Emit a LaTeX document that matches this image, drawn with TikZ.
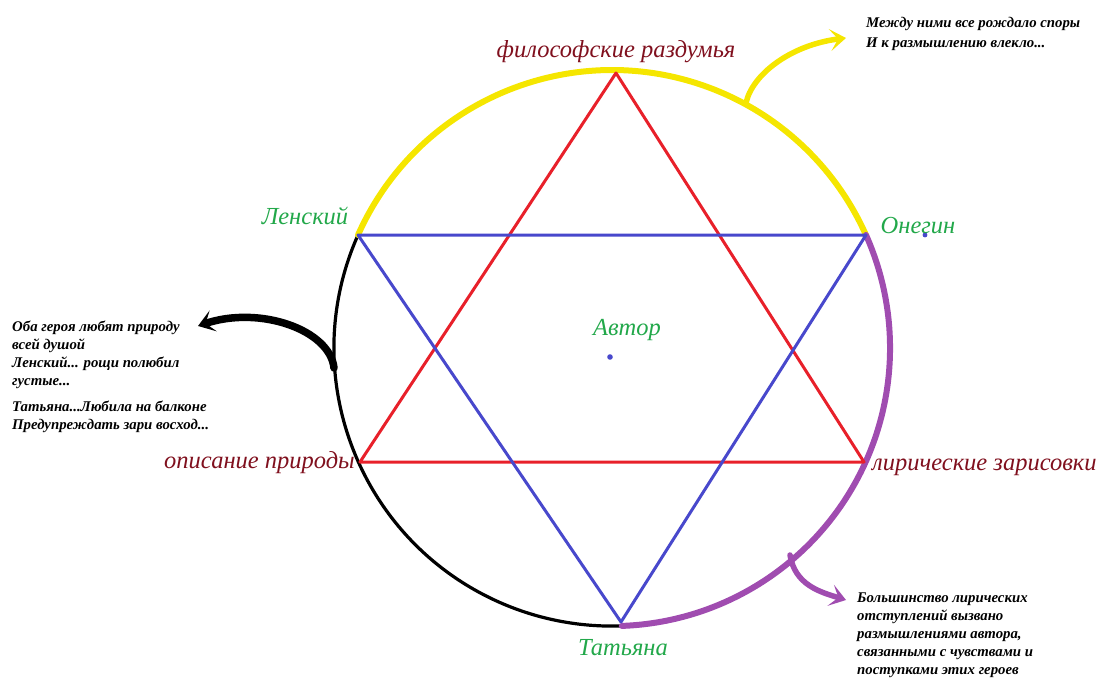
\documentclass[tikz,border=0pt]{standalone}
\usepackage{fontspec}
\setmainfont{Liberation Serif}
\usetikzlibrary{arrows.meta,calc}
\definecolor{starred}{HTML}{E8202A}
\definecolor{starblue}{HTML}{4848CC}
\definecolor{labred}{HTML}{80101E}
\definecolor{labgreen}{HTML}{22A84A}
\definecolor{yel}{HTML}{F5E600}
\definecolor{purp}{HTML}{A04CB0}
\tikzset{
  lab/.style={font=\fontsize{24.5}{26}\selectfont\itshape, inner sep=0pt},
  topic/.style={lab, text=labred},
  hero/.style={lab, text=labgreen},
  note/.style={font=\fontsize{14.8}{18}\selectfont\bfseries\itshape, align=left, inner sep=0pt, anchor=north west},
  starline/.style={line width=3pt, line join=round},
  rim/.style={line width=3.2pt, line cap=round},
  hand/.style={line width=5.5pt, line cap=round, -{Stealth[length=16pt,width=22pt,inset=8pt]}}
}
\begin{document}
\begin{tikzpicture}[x=1pt,y=-1pt]
\useasboundingbox (0,0) rectangle (1099,677);
\coordinate (C) at (612,349);
% star vertices
\coordinate (top) at ($(C)+(4,-276)$);
\coordinate (len) at (358,235);
\coordinate (one) at (866,235);
\coordinate (ll) at (360,462);
\coordinate (lr) at (864,462);
\coordinate (bot) at (621,622);
% circle arcs
\draw[rim, black] (len) arc[start angle=156, end angle=272, x radius=278, y radius=-278];
\draw[rim, yel, line width=6pt] (len) arc[start angle=156, end angle=24, x radius=278, y radius=-278];
\draw[rim, purp, line width=6pt] (one) arc[start angle=24, end angle=-88, x radius=278, y radius=-278];
% star
\draw[starline, starred] (top) -- (ll) -- (lr) -- cycle;
\draw[starline, starblue] (len) -- (one) -- (bot) -- cycle;
% dots
\fill[starblue] (610,357) circle (2.8);
\fill[starblue] (925,235) circle (2.4);
% labels
\node[topic] (phil) at (616,52) {философские раздумья};
\node[topic, anchor=east] (nat) at (355,463) {описание природы};
\node[topic, anchor=west] (lyr) at (872,467) {лирические зарисовки};
\node[hero] (lensky) at (305,216) {Ленский};
\node[hero] (onegin) at (918,226) {Онегин};
\node[hero] (author) at (627,330) {Автор};
\node[hero] (tat) at (623,648) {Татьяна};
% notes
\node[note, font=\fontsize{14.8}{20}\selectfont\bfseries\itshape] (n1) at (866,17) {Между ними все рождало споры\\И к размышлению влекло...};
\node[note] (n2) at (12,321) {Оба героя любят природу\\всей душой\\Ленский... рощи полюбил\\густые...};
\node[note] (n3) at (12,401) {Татьяна...Любила на балконе\\Предупреждать зари восход...};
\node[note] (n4) at (857,593) {Большинство лирических\\отступлений вызвано\\размышлениями автора,\\связанными с чувствами и\\поступками этих героев};
% arrows
\coordinate (ys) at (746,103);
\coordinate (ye) at (846,38);
\draw[hand, yel] (ys) .. controls (752,75) and (790,45) .. (ye);
\coordinate (bs) at (334,368);
\coordinate (be) at (198,326);
\draw[hand, black, line width=7.5pt] (bs) .. controls (330,330) and (260,305) .. (be);
\coordinate (ps) at (790,555);
\coordinate (pe) at (846,600);
\draw[hand, purp] (ps) .. controls (795,585) and (820,592) .. (pe);
\end{tikzpicture}
\end{document}
